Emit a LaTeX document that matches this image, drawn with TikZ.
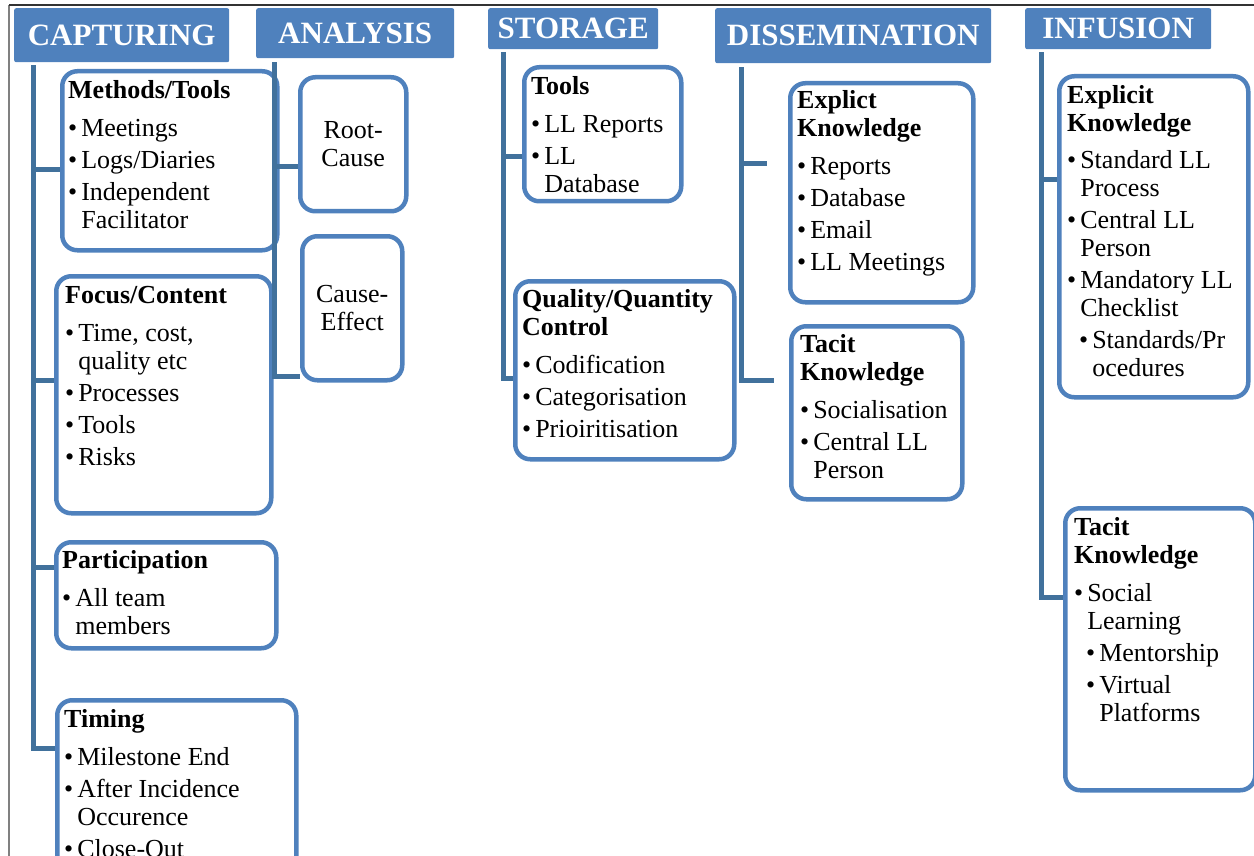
\documentclass[tikz,border=0pt]{standalone}
\usepackage{fontspec}
\setmainfont{Liberation Serif}
\definecolor{hdrblue}{HTML}{4F81BD}
\definecolor{edgeblue}{HTML}{4F81BD}
\definecolor{trunkblue}{HTML}{41719C}
\definecolor{framegray}{HTML}{808080}
\definecolor{framedark}{HTML}{333333}

\newcommand{\llbul}{\textbullet\hspace{4pt}}
\newcommand{\llcont}{\phantom{\textbullet}\hspace{4pt}}
\newcommand{\llsub}{\hspace{12pt}}
\newcommand{\llstrut}{\rule{0pt}{20pt}}

\tikzset{
  hdr/.style={fill=hdrblue, rounded corners=2pt, inner sep=0pt, anchor=north west,
    text=white, font=\fontsize{31}{34}\selectfont\bfseries},
  card/.style={draw=edgeblue, line width=4.5pt, rounded corners=15pt, fill=white,
    inner sep=0pt, anchor=north west},
  txt/.style={inner sep=0pt, anchor=north west, align=left, font=\fontsize{26}{28}\selectfont},
  ctxt/.style={inner sep=0pt, align=center, font=\fontsize{26}{28}\selectfont},
  trunk/.style={draw=trunkblue, line width=5pt},
}

\begin{document}
\begin{tikzpicture}[x=1pt, y=-1pt]
  \useasboundingbox (0,0) rectangle (1254,856);
  \clip (0,0) rectangle (1254,856);
  \draw[framegray, line width=1.2pt] (9,856) -- (9,5);
  \draw[framedark, line width=1.2pt] (9,5) -- (1254,5);

  % headers
  \node[hdr, minimum width=215pt, minimum height=54pt] (cap) at (14,8) {CAPTURING};
  \node[hdr, minimum width=198pt, minimum height=50pt] (ana) at (256,8) {ANALYSIS};
  \node[hdr, minimum width=170pt, minimum height=41pt] (sto) at (488,8) {STORAGE};
  \node[hdr, minimum width=276pt, minimum height=55pt] (dis) at (715,8) {DISSEMINATION};
  \node[hdr, minimum width=186pt, minimum height=41pt] (inf) at (1025,8) {INFUSION};

  % capturing
  \node[card, minimum width=215pt, minimum height=179pt] (mt) at (60,69) {};
  \node[txt] (mtT) at (68,78) {\llstrut\textbf{Methods/Tools}\\[10pt]
    \llbul Meetings\\[4pt]
    \llbul Logs/Diaries\\[4pt]
    \llbul Independent\\
    \llcont Facilitator};
  \node[card, minimum width=215pt, minimum height=237pt] (fc) at (54,274) {};
  \node[txt] (fcT) at (65,283) {\llstrut\textbf{Focus/Content}\\[10pt]
    \llbul Time, cost,\\
    \llcont quality etc\\[4pt]
    \llbul Processes\\[4pt]
    \llbul Tools\\[4pt]
    \llbul Risks};
  \node[card, minimum width=220pt, minimum height=106pt] (pa) at (54,540) {};
  \node[txt] (paT) at (62,548) {\llstrut\textbf{Participation}\\[10pt]
    \llbul All team\\
    \llcont members};
  \node[card, minimum width=239pt, minimum height=190pt] (ti) at (55,698) {};
  \node[txt] (tiT) at (64,707) {\llstrut\textbf{Timing}\\[10pt]
    \llbul Milestone End\\[4pt]
    \llbul After Incidence\\
    \llcont Occurence\\[4pt]
    \llbul Close-Out};

  % analysis
  \node[card, minimum width=106pt, minimum height=134pt] (rc) at (298,75) {};
  \node[ctxt] (rcT) at (rc) {Root-\\Cause};
  \node[card, minimum width=100pt, minimum height=144pt] (ce) at (300,234) {};
  \node[ctxt] (ceT) at (ce) {Cause-\\Effect};

  % storage
  \node[card, minimum width=157pt, minimum height=134pt] (st) at (522,65) {};
  \node[txt] (stT) at (531,74) {\llstrut\textbf{Tools}\\[10pt]
    \llbul LL Reports\\[4pt]
    \llbul LL\\
    \llcont Database};
  \node[card, minimum width=219pt, minimum height=178pt] (qq) at (513,279) {};
  \node[txt] (qqT) at (522,287) {\llstrut\textbf{Quality/Quantity}\\
    \textbf{Control}\\[10pt]
    \llbul Codification\\[4pt]
    \llbul Categorisation\\[4pt]
    \llbul Prioiritisation};

  % dissemination
  \node[card, minimum width=183pt, minimum height=219pt] (de) at (788,81) {};
  \node[txt] (deT) at (797,88) {\llstrut\textbf{Explict}\\
    \textbf{Knowledge}\\[10pt]
    \llbul Reports\\[4pt]
    \llbul Database\\[4pt]
    \llbul Email\\[4pt]
    \llbul LL Meetings};
  \node[card, minimum width=171pt, minimum height=173pt] (dt) at (789,324) {};
  \node[txt] (dtT) at (800,332) {\llstrut\textbf{Tacit}\\
    \textbf{Knowledge}\\[10pt]
    \llbul Socialisation\\[4pt]
    \llbul Central LL\\
    \llcont Person};

  % infusion
  \node[card, minimum width=189pt, minimum height=321pt] (ie) at (1057,74) {};
  \node[txt] (ieT) at (1067,83) {\llstrut\textbf{Explicit}\\
    \textbf{Knowledge}\\[9pt]
    \llbul Standard LL\\
    \llcont Process\\[4pt]
    \llbul Central LL\\
    \llcont Person\\[4pt]
    \llbul Mandatory LL\\
    \llcont Checklist\\[4pt]
    \llsub\llbul Standards/Pr\\
    \llsub\llcont ocedures};
  \node[card, minimum width=190pt, minimum height=282pt] (it) at (1063,506) {};
  \node[txt] (itT) at (1074,515) {\llstrut\textbf{Tacit}\\
    \textbf{Knowledge}\\[10pt]
    \llbul Social\\
    \llcont Learning\\[4pt]
    \llsub\llbul Mentorship\\[4pt]
    \llsub\llbul Virtual\\
    \llsub\llcont Platforms};

  % trunks and branches
  \coordinate (capA) at ([shift={(19,3)}]cap.south west);
  \draw[trunk] (capA) |- (ti.west |- 0,748);
  \foreach \b/\y in {mt/170, fc/380, pa/567}
    \draw[trunk] (capA |- 0,\y) -- (\b.west |- 0,\y);

  \coordinate (anaA) at ([shift={(18,4)}]ana.south west);
  \draw[trunk] (anaA) |- (ce.west |- 0,376);
  \draw[trunk] (anaA |- 0,167) -- (rc.west |- 0,167);

  \coordinate (stoA) at ([shift={(15,3)}]sto.south west);
  \draw[trunk] (stoA) |- (qq.west |- 0,378);
  \draw[trunk] (stoA |- 0,157) -- (st.west |- 0,157);

  \coordinate (disA) at ([shift={(26,4)}]dis.south west);
  \coordinate (disB) at (767,164);
  \coordinate (disC) at (774,380);
  \draw[trunk] (disA) |- (disC);
  \draw[trunk] (disA |- disB) -- (disB);

  \coordinate (infA) at ([shift={(16,3)}]inf.south west);
  \draw[trunk] (infA) |- (it.west |- 0,597);
  \draw[trunk] (infA |- 0,180) -- (ie.west |- 0,180);
\end{tikzpicture}
\end{document}
